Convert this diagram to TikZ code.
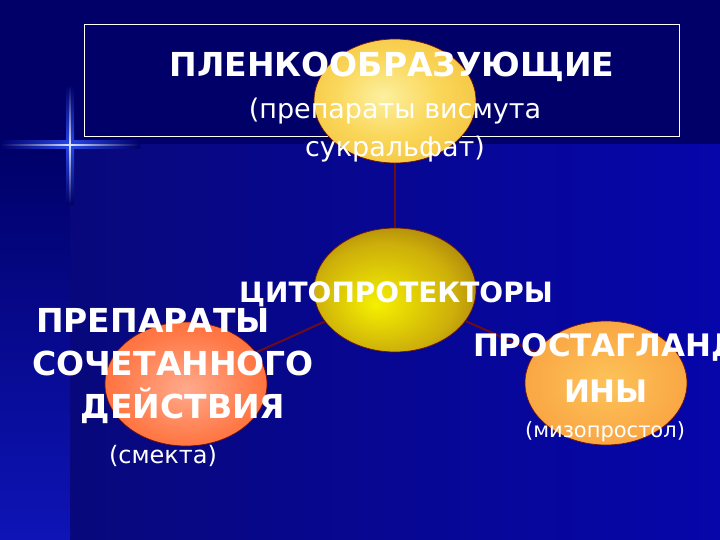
\documentclass[tikz,border=0pt]{standalone}
\usepackage{fontspec}
\setmainfont{DejaVu Sans}
\usetikzlibrary{shapes.geometric}
\definecolor{navy}{RGB}{0,0,104}
\definecolor{lowleft}{RGB}{8,8,124}
\definecolor{lowright}{RGB}{6,6,170}
\definecolor{stripblue}{RGB}{14,20,182}
\definecolor{spark}{RGB}{215,228,255}
\definecolor{sparkglow}{RGB}{40,70,230}
\definecolor{wirered}{RGB}{110,12,22}
\definecolor{rim}{RGB}{110,20,10}
\definecolor{plin}{RGB}{252,240,160}
\definecolor{plmid}{RGB}{250,215,90}
\definecolor{plout}{RGB}{238,170,30}
\definecolor{cyin}{RGB}{245,240,0}
\definecolor{cymid}{RGB}{205,175,10}
\definecolor{cyout}{RGB}{100,40,15}
\definecolor{kbin}{RGB}{255,170,140}
\definecolor{kbmid}{RGB}{255,120,70}
\definecolor{kbout}{RGB}{250,85,30}
\definecolor{prin}{RGB}{253,195,90}
\definecolor{prmid}{RGB}{250,170,70}
\definecolor{prout}{RGB}{242,140,45}
\pgfdeclareradialshading{plenkaglow}{\pgfpoint{-4bp}{2bp}}{color(0bp)=(plin);color(16bp)=(plmid);color(50bp)=(plout)}
\pgfdeclareradialshading{cytoglow}{\pgfpoint{-6bp}{-6bp}}{color(0bp)=(cyin);color(22bp)=(cymid);color(50bp)=(cyout)}
\pgfdeclareradialshading{kombiglow}{\pgfpoint{0bp}{-2bp}}{color(0bp)=(kbin);color(22bp)=(kbmid);color(50bp)=(kbout)}
\pgfdeclareradialshading{prostaglow}{\pgfpoint{0bp}{0bp}}{color(0bp)=(prin);color(22bp)=(prmid);color(50bp)=(prout)}

\begin{document}
\begin{tikzpicture}[x=1pt,y=-1pt,
  blob/.style={ellipse,minimum width=162pt,minimum height=124pt,inner sep=0pt,draw=rim,line width=0.7pt},
  head/.style={text=white,font=\bfseries\fontsize{33}{43}\selectfont,align=center,inner sep=0pt},
  note/.style={text=white,font=\fontsize{27}{38}\selectfont,align=center,inner sep=0pt},
  wire/.style={wirered,line width=2pt}]
\useasboundingbox (0,0) rectangle (720,540);
\fill[navy] (0,0) rectangle (720,540);
\shade[left color=lowleft,right color=lowright] (70,145) rectangle (720,540);
\shade[top color=navy,bottom color=stripblue] (0,145) rectangle (70,540);
\shade[left color=navy,right color=navy,middle color=sparkglow] (0,141) rectangle (140,149);
\shade[top color=navy,bottom color=navy,middle color=sparkglow] (66,85) rectangle (74,205);
\shade[left color=navy,right color=navy,middle color=spark] (0,144.2) rectangle (140,145.8);
\shade[top color=navy,bottom color=navy,middle color=spark] (69.2,85) rectangle (70.8,205);
\draw[white,line width=0.9pt] (84,24) rectangle (679,136);

\node[blob,shading=plenkaglow] (plenka) at (395,101) {};
\node[blob,shading=cytoglow] (cyto) at (395,290) {};
\node[blob,shading=kombiglow] (kombi) at (186,384) {};
\node[blob,shading=prostaglow] (prosta) at (606,383) {};
\draw[wire] (plenka) -- (cyto);
\draw[wire] (cyto) -- (kombi);
\draw[wire] (cyto) -- (prosta);

\node[head,anchor=base] (plenka-t) at (392,77) {ПЛЕНКООБРАЗУЮЩИЕ};
\node[note,anchor=base] (plenka-n) at (395,157) {(препараты висмута\\сукральфат)};
\node[head,anchor=base,font=\bfseries\fontsize{28}{40}\selectfont] (cyto-t) at (396,302) {ЦИТОПРОТЕКТОРЫ};
\node[head,anchor=base] (kombi-t) at (173,418) {\hspace*{-40pt}ПРЕПАРАТЫ\\СОЧЕТАННОГО\\ДЕЙСТВИЯ\hspace*{-20pt}};
\node[note,anchor=base,font=\fontsize{24}{30}\selectfont] (kombi-n) at (163,463) {(смекта)};
\node[head,anchor=base,font=\bfseries\fontsize{31}{46}\selectfont] (prosta-t) at (606,402) {ПРОСТАГЛАНД\\ИНЫ};
\node[note,anchor=base,font=\fontsize{21}{28}\selectfont] (prosta-n) at (605,437) {(мизопростол)};
\end{tikzpicture}
\end{document}
